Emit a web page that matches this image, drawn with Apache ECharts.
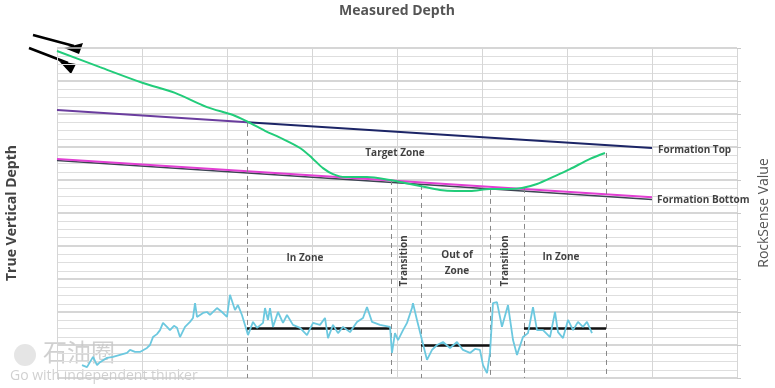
<!DOCTYPE html>
<html><head><meta charset="utf-8">
<script src="https://cdn.jsdelivr.net/npm/echarts@6/dist/echarts.min.js"></script>
<style>html,body{margin:0;padding:0;background:#fff}#c{width:775px;height:388px}</style>
</head><body><div id="c"></div>
<script>
// Measured depth (ft) / true vertical depth (ft) / RockSense value
const formationTopMD = [0, 2240, 7000];
const formationTopTVD = [188, 225, 303];
const formationBottomMD = [0, 7000];
const formationBottomTVD = [336, 452];
const formationBaseTVD = [341, 459];

const wellMD = [0, 506, 1012, 1388, 1765, 2071, 2247, 2447, 2659, 2859, 3000, 3129, 3247, 3388, 3647, 3918, 4094, 4271, 4506, 4682, 4859, 5094, 5329, 5471, 5647, 5859, 6035, 6271, 6447];
const wellTVD = [9, 58, 106, 136, 179, 203, 224, 251, 276, 303, 333, 364, 382, 391, 391, 400, 409, 418, 430, 433, 433, 427, 427, 424, 412, 388, 367, 336, 318];

const rsMD = [294,353,424,471,506,588,659,741,824,859,918,976,1059,1094,1129,1176,1212,1247,1294,1329,1376,1412,1447,1506,1565,1600,1624,1647,1718,1765,1800,1882,1941,2000,2035,2094,2129,2176,2247,2306,2353,2424,2447,2482,2506,2541,2600,2659,2706,2776,2859,2941,3012,3094,3153,3188,3247,3306,3365,3447,3529,3600,3647,3706,3800,3918,3941,3976,4012,4071,4118,4176,4188,4235,4294,4353,4412,4471,4541,4624,4706,4776,4859,4918,4976,5012,5059,5094,5129,5176,5235,5306,5365,5412,5482,5541,5600,5647,5718,5800,5859,5894,5953,6012,6071,6129,6188,6235,6294];
const rsValue = [3.9,3.3,6.4,3.9,4.8,6.1,6.4,7.0,7.6,8.5,7.9,7.9,9.1,10.0,12.4,13.3,14.5,16.7,15.5,14.5,15.8,15.2,12.4,15.5,17.0,18.2,22.7,18.5,19.7,20.0,19.1,21.2,20.0,18.5,25.2,20.6,22.1,19.1,13.0,17.0,15.2,16.7,21.2,17.6,21.2,15.5,20.0,16.7,19.1,16.1,15.2,13.0,16.7,16.1,18.2,12.1,16.1,13.6,15.5,13.9,17.0,18.2,21.5,17.0,16.1,15.5,7.6,13.6,11.5,14.5,16.7,21.2,22.7,17.6,11.5,5.5,8.5,10.0,10.9,9.1,10.9,8.5,7.6,8.8,8.5,3.9,1.5,7.6,22.7,23.0,15.5,22.1,11.5,7.0,12.4,13.6,21.5,14.5,14.5,12.4,20.0,13.9,12.1,17.6,14.5,17.0,15.5,17.0,13.6];

const boundaryMD = [2235, 3929, 4282, 5094, 5494, 6459];
const boundaryTopTVD = [224, 400, 415, 430, 424, 318];

const zoneStartMD = [2235, 4282, 5494];
const zoneEndMD = [3929, 5094, 6459];
const zoneMeanRS = [15, 10, 15];

const zoneLabels = ['Target Zone', 'In Zone', 'Transition', 'Out of\nZone', 'Transition', 'In Zone', 'Formation Top', 'Formation Bottom'];
const zoneLabelMD = [3976, 2918, 4082, 4706, 5271, 5929, 7071, 7060];
const zoneLabelTVD = [318, 636, 645, 651, 645, 633, 311, 461];
const zoneLabelRotate = [0, 0, 90, 0, 90, 0, 0, 0];
const zoneLabelAlign = ['center', 'center', 'center', 'center', 'center', 'center', 'left', 'left'];

const pairs = (a, b) => a.map((v, i) => [v, b[i]]);

const chart = echarts.init(document.getElementById('c'));
const lblFont = {fontFamily: 'Open Sans', fontWeight: 'bold', fontSize: 10, color: '#111'};

chart.setOption({
  animation: false,
  backgroundColor: '#fff',
  grid: {left: 57, right: 38, top: 48, bottom: 10, outerBoundsMode: 'none', containLabel: false},
  xAxis: {
    type: 'value', position: 'top', min: 0, max: 8000, interval: 1000,
    name: 'Measured Depth', nameLocation: 'middle', nameGap: 30,
    nameTextStyle: {fontFamily: 'Open Sans', fontWeight: 'bold', fontSize: 14, color: '#555'},
    axisLine: {show: false}, axisTick: {show: false}, axisLabel: {show: false},
    splitLine: {show: true, lineStyle: {color: '#d6d6d6', width: 1}}
  },
  yAxis: [{
    type: 'value', inverse: true, min: 0, max: 1000, interval: 100,
    name: 'True Vertical Depth', nameLocation: 'middle', nameGap: 38, nameRotate: 90,
    nameTextStyle: {fontFamily: 'Open Sans', fontWeight: 'bold', fontSize: 14, color: '#444'},
    axisLine: {show: false}, axisTick: {show: false}, axisLabel: {show: false},
    splitLine: {show: true, lineStyle: {color: '#c9c9c9', width: 1.5}},
    minorTick: {show: false, splitNumber: 4},
    minorSplitLine: {show: true, lineStyle: {color: '#dedede', width: 1}}
  }, {
    type: 'value', position: 'right', min: 0, max: 100, interval: 10,
    name: 'RockSense Value', nameLocation: 'middle', nameGap: 20, nameRotate: 90,
    nameTextStyle: {fontFamily: 'Open Sans', fontSize: 14, color: '#555'},
    axisLine: {show: false}, axisLabel: {show: false},
    axisTick: {show: true, length: 4, lineStyle: {color: '#c9c9c9'}},
    splitLine: {show: false}
  }],
  series: [
    {type: 'line', name: 'Formation Top A', data: pairs(formationTopMD.slice(0, 2), formationTopTVD.slice(0, 2)),
     showSymbol: false, lineStyle: {color: '#6a3d9e', width: 2}, z: 3},
    {type: 'line', name: 'Formation Top B', data: pairs(formationTopMD.slice(1), formationTopTVD.slice(1)),
     showSymbol: false, lineStyle: {color: '#1c2566', width: 2}, z: 3},
    {type: 'line', name: 'Formation Base', data: pairs(formationBottomMD, formationBaseTVD),
     showSymbol: false, lineStyle: {color: '#3c4452', width: 1.5}, z: 3},
    {type: 'line', name: 'Formation Bottom', data: pairs(formationBottomMD, formationBottomTVD),
     showSymbol: false, lineStyle: {color: '#e23fd3', width: 2}, z: 4},
    {type: 'line', name: 'Well', data: pairs(wellMD, wellTVD), smooth: 0.3,
     showSymbol: false, lineStyle: {color: '#22cc7a', width: 2}, z: 5,
     markLine: {silent: true, symbol: 'none', label: {show: false},
       lineStyle: {color: '#888', width: 1, type: [5, 4]},
       data: boundaryMD.map((m, i) => [{coord: [m, boundaryTopTVD[i]]}, {coord: [m, 1000]}])}},
    {type: 'line', name: 'RockSense', yAxisIndex: 1, data: pairs(rsMD, rsValue),
     showSymbol: false, lineStyle: {color: '#6cc8df', width: 1.8}, z: 5,
     markLine: {silent: true, symbol: 'none', label: {show: false},
       lineStyle: {color: '#111', width: 2.5, type: 'solid'},
       data: zoneStartMD.map((m, i) => [{coord: [m, zoneMeanRS[i]]}, {coord: [zoneEndMD[i], zoneMeanRS[i]]}])}},
    {type: 'scatter', name: 'Labels', symbolSize: 0, z: 10,
     data: zoneLabels.map((t, i) => ({name: t, value: [zoneLabelMD[i], zoneLabelTVD[i]],
       label: {show: true, position: 'inside', formatter: '{b}', rotate: zoneLabelRotate[i], align: zoneLabelAlign[i],
         verticalAlign: 'middle', lineHeight: 16, ...lblFont}}))}
  ],
  graphic: [
    {type: 'line', shape: {x1: 33, y1: 35, x2: 74, y2: 46}, style: {stroke: '#000', lineWidth: 2.5}},
    {type: 'polygon', shape: {points: [[64, 48], [83, 43], [79, 54]]}, style: {fill: '#000'}},
    {type: 'line', shape: {x1: 29, y1: 48, x2: 68, y2: 63}, style: {stroke: '#000', lineWidth: 2.5}},
    {type: 'polygon', shape: {points: [[59, 61], [76, 64], [71, 74]]}, style: {fill: '#000'}},
    {type: 'circle', shape: {cx: 25, cy: 355, r: 11}, style: {fill: 'rgba(170,170,170,0.3)'}},
    {type: 'text', left: 43, top: 340, style: {text: '石油圈', fontSize: 24, fontFamily: 'Noto Sans CJK SC', fill: 'rgba(150,150,150,0.45)'}},
    {type: 'text', left: 10, top: 369, style: {text: 'Go with independent thinker', fontSize: 14, fontFamily: 'Open Sans', fill: 'rgba(150,150,150,0.45)'}}
  ]
});
</script></body></html>
